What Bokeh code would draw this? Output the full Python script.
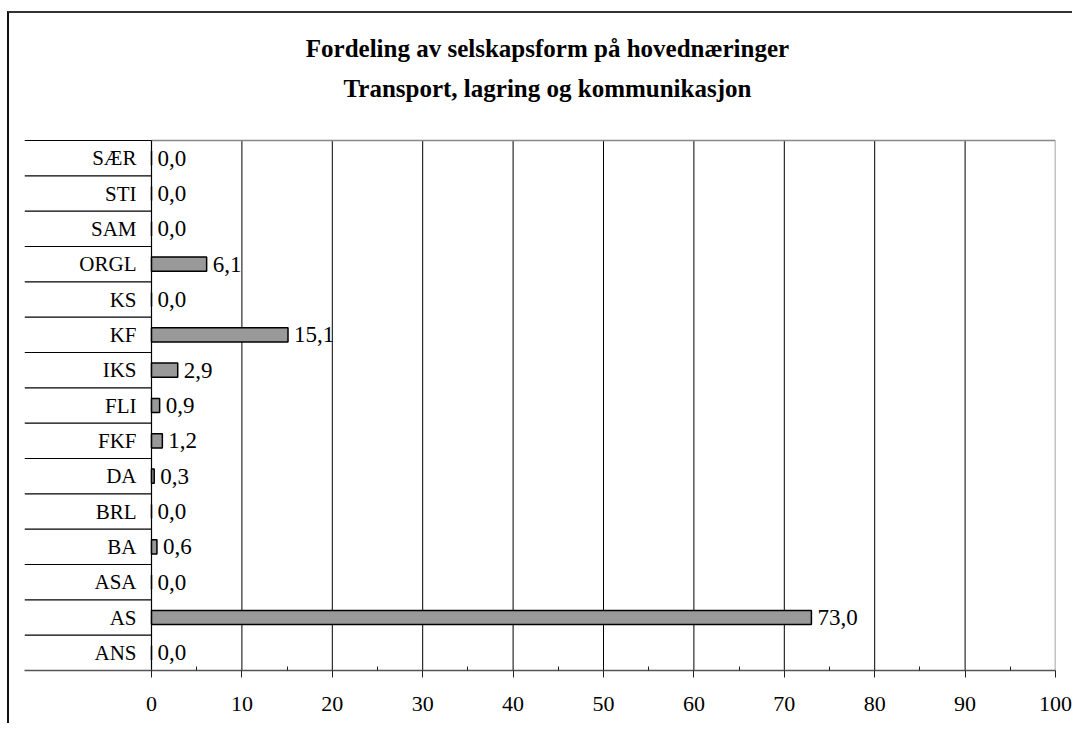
from bokeh.plotting import figure
from bokeh.models import Range1d, FixedTicker, ColumnDataSource
from bokeh.core.properties import value
from bokeh.embed import file_html
from bokeh.resources import INLINE

# ---- data ----
categories = ["ANS", "AS", "ASA", "BA", "BRL", "DA", "FKF", "FLI", "IKS",
              "KF", "KS", "ORGL", "SAM", "STI", "SÆR"]
values = [0.0, 73.0, 0.0, 0.6, 0.0, 0.3, 1.2, 0.9, 2.9, 15.1, 0.0, 6.1, 0.0, 0.0, 0.0]
x_ticks = [0, 10, 20, 30, 40, 50, 60, 70, 80, 90, 100]
x_minor = [5, 15, 25, 35, 45, 55, 65, 75, 85, 95]
title_lines = ["Fordeling av selskapsform på hovednæringer",
               "Transport, lagring og kommunikasjon"]

FONT = "Liberation Serif"
n = len(categories)
xmax = 100
px_per_unit = 9.04
left_ext = -127 / px_per_unit          # category label column width
row_px = 530 / n
y_top = 657 / row_px                   # frame extends up to hold title

W, H = 1065, 712
p = figure(width=W, height=H, output_backend="svg", toolbar_location=None,
           x_range=Range1d(left_ext, xmax), y_range=Range1d(0, y_top),
           min_border_left=15, min_border_right=19, min_border_top=0,
           min_border_bottom=55)
p.styles = {"border-left": "2px solid #111", "border-top": "2px solid #333",
            "position": "relative", "top": "11px", "left": "7px"}
p.outline_line_color = None
p.background_fill_color = "white"
p.border_fill_color = "white"
p.xgrid.visible = False
p.ygrid.visible = False
p.yaxis.visible = False

# x axis
ax = p.xaxis[0]
ax.ticker = FixedTicker(ticks=x_ticks, minor_ticks=x_minor)
ax.axis_line_color = "#555555"
ax.axis_line_width = 1.5
ax.major_tick_line_color = "#222222"
ax.major_tick_out = 7
ax.major_tick_in = 0
ax.minor_tick_line_color = "#222222"
ax.minor_tick_in = 4
ax.minor_tick_out = 0
ax.major_label_text_font = FONT
ax.major_label_text_font_size = "22px"
ax.major_label_text_color = "black"
ax.major_label_standoff = 19

# grid lines (vertical) inside rows region
inner = [t for t in x_ticks if 0 < t < xmax]
p.segment(x0=inner, y0=[0] * len(inner), x1=inner, y1=[n] * len(inner),
          line_color="black", line_width=1)
# right border of plot area and top border
p.segment(x0=[xmax], y0=[0], x1=[xmax], y1=[n], line_color="#888888", line_width=1.5)
p.segment(x0=[0], y0=[n], x1=[xmax], y1=[n], line_color="#888888", line_width=1.5)
# category row separators (left table)
seps = list(range(1, n + 1))
p.segment(x0=[left_ext] * len(seps), y0=seps, x1=[0] * len(seps), y1=seps,
          line_color="black", line_width=1.2)
# y axis line
p.segment(x0=[0], y0=[0], x1=[0], y1=[n], line_color="black", line_width=1.2)

ys = [i + 0.5 for i in range(n)]
src = ColumnDataSource(dict(cat=categories, val=values, y=ys,
                            lab=[f"{v:.1f}".replace(".", ",") for v in values]))

p.hbar(y="y", left=0, right="val", height=0.4, source=src,
       fill_color="#999999", line_color="black", line_width=1.5)

p.text(x="val", y="y", text="lab", source=src, x_offset=6,
       text_align="left", text_baseline="middle",
       text_font=value(FONT), text_font_size="23px", text_color="black")

p.text(x=-15 / px_per_unit, y="y", text="cat", source=src,
       text_align="right", text_baseline="middle",
       text_font=value(FONT), text_font_size="21px", text_color="black")

# titles
title_x = 43.8
title_y = [(670 - 13 - 35) / row_px, (670 - 13 - 75) / row_px]
p.text(x=[title_x, title_x], y=title_y, text=title_lines,
       text_align="center", text_baseline="middle",
       text_font=value(FONT), text_font_size="25px", text_font_style="bold",
       text_color="black")

open("out.html", "w").write(file_html(p, INLINE))
